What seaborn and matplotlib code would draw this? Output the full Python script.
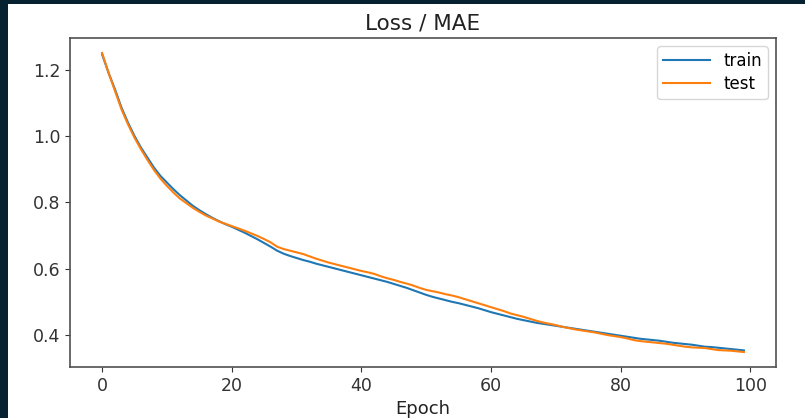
# Loss curves (MAE) for train / test over 100 epochs
import numpy as np
import pandas as pd
import seaborn as sns
import matplotlib.pyplot as plt
from matplotlib.patches import Rectangle

# values
epochs = list(range(100))

train_loss = [
    1.246, 1.190, 1.140, 1.085, 1.040, 1.000, 0.965, 0.935, 0.905, 0.880,
    0.860, 0.840, 0.822, 0.806, 0.790, 0.777, 0.765, 0.754, 0.744, 0.735,
    0.727, 0.718, 0.709, 0.699, 0.689, 0.678, 0.667, 0.655, 0.646, 0.639,
    0.633, 0.627, 0.622, 0.616, 0.611, 0.606, 0.601, 0.596, 0.591, 0.586,
    0.581, 0.576, 0.571, 0.566, 0.561, 0.555, 0.549, 0.543, 0.536, 0.529,
    0.522, 0.516, 0.511, 0.506, 0.501, 0.497, 0.492, 0.487, 0.482, 0.476,
    0.470, 0.465, 0.460, 0.455, 0.450, 0.446, 0.442, 0.438, 0.435, 0.432,
    0.429, 0.426, 0.423, 0.420, 0.417, 0.414, 0.411, 0.408, 0.405, 0.402,
    0.399, 0.396, 0.393, 0.390, 0.388, 0.386, 0.384, 0.381, 0.378, 0.376,
    0.374, 0.372, 0.369, 0.366, 0.365, 0.363, 0.361, 0.359, 0.357, 0.355,
]

test_loss = [
    1.250, 1.190, 1.135, 1.080, 1.035, 0.995, 0.960, 0.928, 0.898, 0.872,
    0.850, 0.830, 0.812, 0.798, 0.784, 0.772, 0.761, 0.752, 0.743, 0.736,
    0.729, 0.722, 0.715, 0.707, 0.699, 0.690, 0.680, 0.667, 0.660, 0.655,
    0.650, 0.645, 0.638, 0.631, 0.625, 0.619, 0.614, 0.609, 0.604, 0.599,
    0.594, 0.590, 0.585, 0.578, 0.572, 0.567, 0.561, 0.556, 0.550, 0.543,
    0.537, 0.533, 0.529, 0.524, 0.520, 0.515, 0.509, 0.503, 0.497, 0.491,
    0.485, 0.479, 0.473, 0.466, 0.461, 0.456, 0.450, 0.444, 0.439, 0.435,
    0.431, 0.426, 0.422, 0.418, 0.415, 0.412, 0.409, 0.405, 0.401, 0.398,
    0.395, 0.391, 0.386, 0.383, 0.381, 0.379, 0.377, 0.375, 0.372, 0.369,
    0.366, 0.364, 0.363, 0.362, 0.359, 0.356, 0.355, 0.354, 0.352, 0.350,
]

df = pd.DataFrame({'epoch': epochs, 'train': train_loss, 'test': test_loss})

fig = plt.figure(figsize=(8.05, 4.18), dpi=100)
# dark slide background behind the white chart
fig.patch.set_facecolor('#062230')
fig.add_artist(Rectangle((8 / 805, 0), 1, 1 - 4 / 418, transform=fig.transFigure,
                         facecolor='white', edgecolor='none', zorder=0))

ax = fig.add_axes([70 / 805, 1 - 367 / 418, 706 / 805, 329 / 418])

sns.lineplot(x='epoch', y='train', data=df, ax=ax, color='#1f77b4', label='train', linewidth=1.5)
sns.lineplot(x='epoch', y='test', data=df, ax=ax, color='#ff7f0e', label='test', linewidth=1.5)

ax.set_title('Loss / MAE', fontsize=15.5, color='#222222')
ax.set_xlabel('Epoch', fontsize=13, color='#222222')
ax.set_ylabel('')
ax.set_xticks([0, 20, 40, 60, 80, 100])
ax.set_yticks([0.4, 0.6, 0.8, 1.0, 1.2])
ax.tick_params(labelsize=12.5, colors='#333333')
for s in ax.spines.values():
    s.set_color('#505050')
    s.set_linewidth(1.2)

ax.legend(loc='upper right', fontsize=12, handlelength=2.8, labelspacing=0.3,
          borderpad=0.35)

plt.savefig('out.png', dpi=100, facecolor=fig.get_facecolor())
